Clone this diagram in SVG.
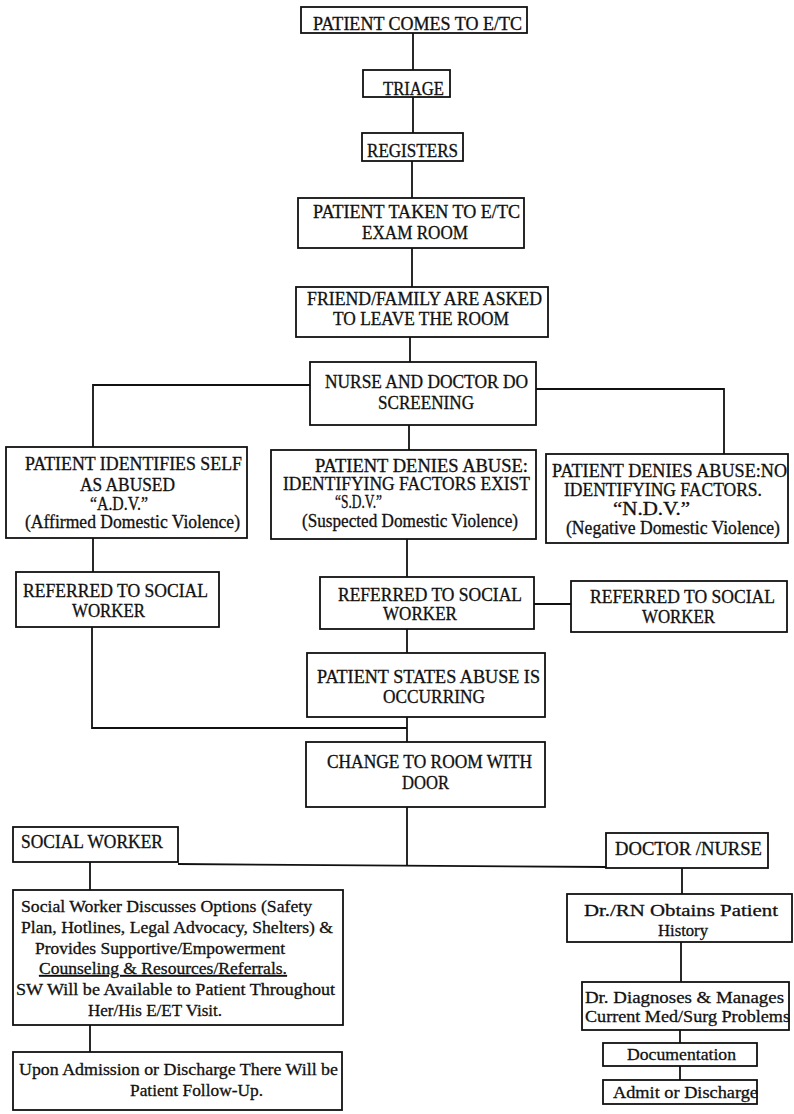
<svg xmlns="http://www.w3.org/2000/svg" width="794" height="1114" viewBox="0 0 794 1114">
  <style>
    .box { fill: #fff; stroke: #111; stroke-width: 1.8; }
    .wire { fill: none; stroke: #111; stroke-width: 1.8; }
    text { font-family: "Liberation Serif", "Times New Roman", serif; font-size: 18px; fill: #111; stroke: #111; stroke-width: 0.3; }
    .lc { font-size: 17px; }
    .ul { text-decoration: underline; }
  </style>
  <rect width="794" height="1114" fill="#fff"/>

  <!-- connectors -->
  <g id="connectors">
    <line class="wire" x1="413" y1="33" x2="413" y2="70"/>
    <line class="wire" x1="413" y1="97" x2="413" y2="133"/>
    <line class="wire" x1="412" y1="161" x2="412" y2="198"/>
    <line class="wire" x1="412" y1="248" x2="412" y2="287"/>
    <line class="wire" x1="410" y1="337" x2="410" y2="362"/>
    <polyline class="wire" points="310,385 93,385 93,447"/>
    <polyline class="wire" points="536,389 724,389 724,454"/>
    <line class="wire" x1="409" y1="425" x2="409" y2="450"/>
    <line class="wire" x1="93" y1="538" x2="93" y2="572"/>
    <polyline class="wire" points="92,627 92,728 407,728"/>
    <line class="wire" x1="407" y1="539" x2="407" y2="577"/>
    <line class="wire" x1="534" y1="604" x2="571" y2="604"/>
    <line class="wire" x1="407" y1="629" x2="407" y2="653"/>
    <line class="wire" x1="407" y1="717" x2="407" y2="742"/>
    <line class="wire" x1="407" y1="807" x2="407" y2="866"/>
    <line class="wire" x1="178" y1="864" x2="606" y2="867"/>
    <line class="wire" x1="90" y1="862" x2="90" y2="890"/>
    <line class="wire" x1="90" y1="1025" x2="90" y2="1052"/>
    <line class="wire" x1="682" y1="868" x2="682" y2="894"/>
    <line class="wire" x1="681" y1="942" x2="681" y2="982"/>
    <line class="wire" x1="680" y1="1030" x2="680" y2="1043"/>
    <line class="wire" x1="680" y1="1066" x2="680" y2="1080"/>
  </g>

  <g id="arrive">
    <rect class="box" x="301" y="7" width="226" height="26"/>
    <text x="313" y="30" textLength="209" lengthAdjust="spacingAndGlyphs">PATIENT COMES TO E/TC</text>
  </g>
  <g id="triage">
    <rect class="box" x="363" y="70" width="87" height="27"/>
    <text x="383" y="95" textLength="61" lengthAdjust="spacingAndGlyphs">TRIAGE</text>
  </g>
  <g id="registers">
    <rect class="box" x="362" y="133" width="101" height="28"/>
    <text x="367" y="157" textLength="91" lengthAdjust="spacingAndGlyphs">REGISTERS</text>
  </g>
  <g id="exam-room">
    <rect class="box" x="298" y="198" width="226" height="50"/>
    <text x="313" y="218" textLength="207" lengthAdjust="spacingAndGlyphs">PATIENT TAKEN TO E/TC</text>
    <text x="362" y="239" textLength="106" lengthAdjust="spacingAndGlyphs">EXAM ROOM</text>
  </g>
  <g id="leave-room">
    <rect class="box" x="296" y="287" width="252" height="50"/>
    <text x="307" y="305" textLength="235" lengthAdjust="spacingAndGlyphs">FRIEND/FAMILY ARE ASKED</text>
    <text x="333" y="325" textLength="176" lengthAdjust="spacingAndGlyphs">TO LEAVE THE ROOM</text>
  </g>
  <g id="screening">
    <rect class="box" x="310" y="362" width="226" height="63"/>
    <text x="325" y="388" textLength="203" lengthAdjust="spacingAndGlyphs">NURSE AND DOCTOR DO</text>
    <text x="378" y="409" textLength="96" lengthAdjust="spacingAndGlyphs">SCREENING</text>
  </g>
  <g id="adv">
    <rect class="box" x="6" y="447" width="241" height="91"/>
    <text x="25" y="470" textLength="217" lengthAdjust="spacingAndGlyphs">PATIENT IDENTIFIES SELF</text>
    <text x="80" y="491" textLength="95" lengthAdjust="spacingAndGlyphs">AS ABUSED</text>
    <text x="90" y="510" textLength="58" lengthAdjust="spacingAndGlyphs">“A.D.V.”</text>
    <text x="25" y="528" textLength="215" lengthAdjust="spacingAndGlyphs">(Affirmed Domestic Violence)</text>
  </g>
  <g id="sdv">
    <rect class="box" x="271" y="450" width="265" height="89"/>
    <text x="315" y="472" textLength="213" lengthAdjust="spacingAndGlyphs">PATIENT DENIES ABUSE:</text>
    <text x="283" y="490" textLength="247" lengthAdjust="spacingAndGlyphs">IDENTIFYING FACTORS EXIST</text>
    <text x="335" y="508" textLength="47" lengthAdjust="spacingAndGlyphs">“S.D.V.”</text>
    <text x="302" y="527" textLength="216" lengthAdjust="spacingAndGlyphs">(Suspected Domestic Violence)</text>
  </g>
  <g id="ndv">
    <rect class="box" x="546" y="454" width="242" height="89"/>
    <text x="552" y="477" textLength="235" lengthAdjust="spacingAndGlyphs">PATIENT DENIES ABUSE:NO</text>
    <text x="564" y="496" textLength="198" lengthAdjust="spacingAndGlyphs">IDENTIFYING FACTORS.</text>
    <text x="613" y="515" textLength="77" lengthAdjust="spacingAndGlyphs">“N.D.V.”</text>
    <text x="566" y="534" textLength="214" lengthAdjust="spacingAndGlyphs">(Negative Domestic Violence)</text>
  </g>
  <g id="referred-adv">
    <rect class="box" x="16" y="572" width="203" height="55"/>
    <text x="23" y="597" textLength="185" lengthAdjust="spacingAndGlyphs">REFERRED TO SOCIAL</text>
    <text x="72" y="617" textLength="73" lengthAdjust="spacingAndGlyphs">WORKER</text>
  </g>
  <g id="referred-sdv">
    <rect class="box" x="320" y="577" width="214" height="52"/>
    <text x="338" y="601" textLength="184" lengthAdjust="spacingAndGlyphs">REFERRED TO SOCIAL</text>
    <text x="383" y="620" textLength="74" lengthAdjust="spacingAndGlyphs">WORKER</text>
  </g>
  <g id="referred-ndv">
    <rect class="box" x="571" y="581" width="216" height="51"/>
    <text x="590" y="603" textLength="185" lengthAdjust="spacingAndGlyphs">REFERRED TO SOCIAL</text>
    <text x="642" y="623" textLength="73" lengthAdjust="spacingAndGlyphs">WORKER</text>
  </g>
  <g id="abuse-occurring">
    <rect class="box" x="307" y="653" width="238" height="64"/>
    <text x="317" y="683" textLength="223" lengthAdjust="spacingAndGlyphs">PATIENT STATES ABUSE IS</text>
    <text x="383" y="703" textLength="102" lengthAdjust="spacingAndGlyphs">OCCURRING</text>
  </g>
  <g id="room-with-door">
    <rect class="box" x="306" y="742" width="239" height="65"/>
    <text x="327" y="768" textLength="205" lengthAdjust="spacingAndGlyphs">CHANGE TO ROOM WITH</text>
    <text x="402" y="789" textLength="47" lengthAdjust="spacingAndGlyphs">DOOR</text>
  </g>
  <g id="social-worker">
    <rect class="box" x="13" y="827" width="165" height="35"/>
    <text x="21" y="848" textLength="142" lengthAdjust="spacingAndGlyphs">SOCIAL WORKER</text>
  </g>
  <g id="doctor-nurse">
    <rect class="box" x="606" y="833" width="162" height="35"/>
    <text x="615" y="855" textLength="147" lengthAdjust="spacingAndGlyphs">DOCTOR /NURSE</text>
  </g>
  <g id="sw-options">
    <rect class="box" x="13" y="890" width="330" height="135"/>
    <text class="lc" x="21" y="912" textLength="291" lengthAdjust="spacingAndGlyphs">Social Worker Discusses Options (Safety</text>
    <text class="lc" x="21" y="933" textLength="312" lengthAdjust="spacingAndGlyphs">Plan, Hotlines, Legal Advocacy, Shelters) &amp;</text>
    <text class="lc" x="35" y="954" textLength="250" lengthAdjust="spacingAndGlyphs">Provides Supportive/Empowerment</text>
    <text class="lc ul" x="39" y="974" textLength="248" lengthAdjust="spacingAndGlyphs">Counseling &amp; Resources/Referrals.</text>
    <text class="lc" x="16" y="995" textLength="319" lengthAdjust="spacingAndGlyphs">SW Will be Available to Patient Throughout</text>
    <text class="lc" x="88" y="1016" textLength="134" lengthAdjust="spacingAndGlyphs">Her/His E/ET Visit.</text>
  </g>
  <g id="follow-up">
    <rect class="box" x="13" y="1052" width="329" height="58"/>
    <text class="lc" x="19" y="1075" textLength="319" lengthAdjust="spacingAndGlyphs">Upon Admission or Discharge There Will be</text>
    <text class="lc" x="130" y="1096" textLength="133" lengthAdjust="spacingAndGlyphs">Patient Follow-Up.</text>
  </g>
  <g id="history">
    <rect class="box" x="567" y="894" width="225" height="48"/>
    <text class="lc" x="584" y="916" textLength="194" lengthAdjust="spacingAndGlyphs">Dr./RN Obtains Patient</text>
    <text class="lc" x="658" y="936" textLength="50" lengthAdjust="spacingAndGlyphs">History</text>
  </g>
  <g id="diagnoses">
    <rect class="box" x="582" y="982" width="207" height="48"/>
    <text class="lc" x="585" y="1003" textLength="199" lengthAdjust="spacingAndGlyphs">Dr. Diagnoses &amp; Manages</text>
    <text class="lc" x="585" y="1022" textLength="205" lengthAdjust="spacingAndGlyphs">Current Med/Surg Problems</text>
  </g>
  <g id="documentation">
    <rect class="box" x="603" y="1043" width="154" height="23"/>
    <text class="lc" x="627" y="1060" textLength="109" lengthAdjust="spacingAndGlyphs">Documentation</text>
  </g>
  <g id="admit-discharge">
    <rect class="box" x="603" y="1080" width="154" height="24"/>
    <text class="lc" x="613" y="1098" textLength="145" lengthAdjust="spacingAndGlyphs">Admit or Discharge</text>
  </g>
</svg>
